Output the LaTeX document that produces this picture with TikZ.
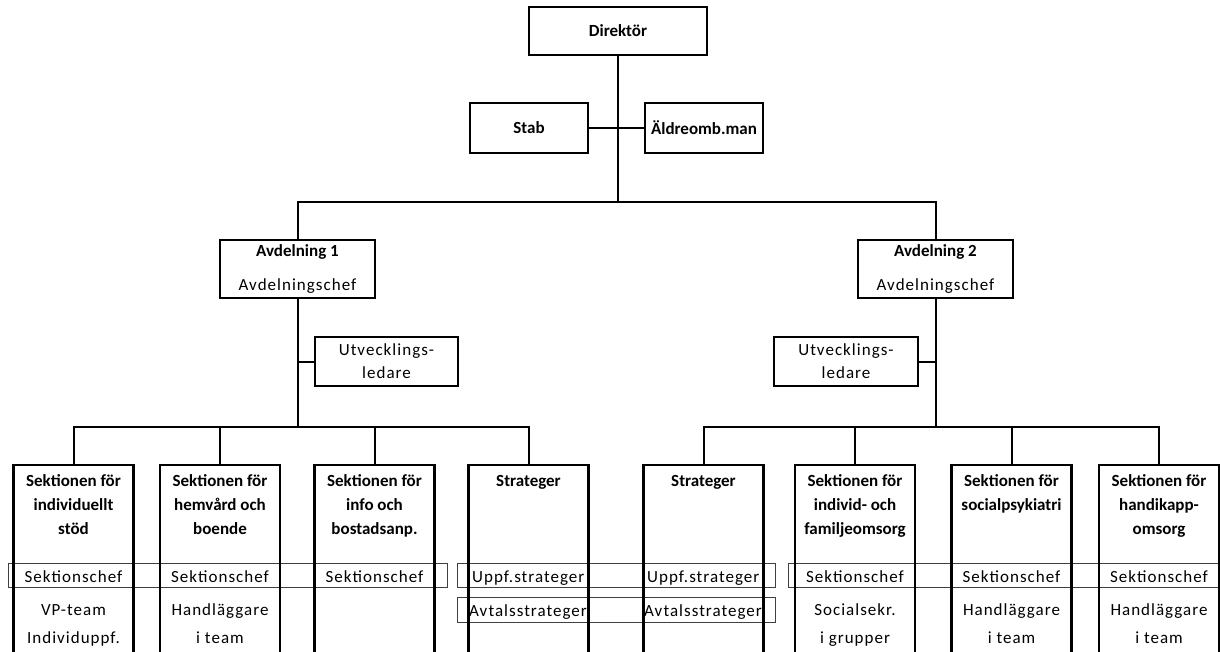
\documentclass[tikz,border=0pt]{standalone}
\usepackage{fontspec}
\setmainfont{Carlito}
\usetikzlibrary{positioning}
\tikzstyle{unit} = [draw,line width=2.4pt,rectangle,inner sep=0,align=center]
\tikzstyle{section} = [draw,line width=2.4pt,rectangle,inner sep=0,minimum width=120pt,minimum height=200pt,anchor=north]
\tikzstyle{heading} = [anchor=base,align=center,inner sep=0,font=\bfseries\fontsize{17}{24}\selectfont]
\tikzstyle{staff} = [anchor=base,align=center,inner sep=0,font=\addfontfeature{LetterSpace=6}\fontsize{17}{28}\selectfont]
\tikzstyle{band} = [draw=black!75,line width=0.8pt]
\tikzstyle{link} = [-,line width=2pt]
\def \secy {464}
% baseline of the last text line
\def \headi {486}
\def \headii {510}
\def \headiii {534}
\def \chefy {582}
\def \lowy {643}

\begin{document}
\begin{tikzpicture}[x=1pt,y=-1pt]
  \useasboundingbox (0,0) rectangle (1220,652);
  % ledning
  \node[unit,minimum width=178pt,minimum height=48pt,font=\bfseries\fontsize{17}{20}\selectfont] (dir) at (618,31) {Direktör};
  \node[unit,minimum width=118pt,minimum height=50pt,font=\bfseries\fontsize{17}{20}\selectfont] (stab) at (529,128) {Stab};
  \node[unit,minimum width=118pt,minimum height=50pt,font=\bfseries\fontsize{17}{20}\selectfont] (aldre) at (704,128) {Äldreomb.man};
  \coordinate (hub) at (618,202);
  \draw[link] (dir.south) -- (hub);
  \draw[link] (stab.east) -- (aldre.west);
  % avdelningar
  \node[unit,minimum width=155pt,minimum height=58pt,font=\fontsize{17}{34}\selectfont] (avd1) at (297.5,269)
    {{\bfseries Avdelning 1}\\{\addfontfeature{LetterSpace=6}Avdelningschef}};
  \node[unit,minimum width=155pt,minimum height=58pt,font=\fontsize{17}{34}\selectfont] (avd2) at (935.5,269)
    {{\bfseries Avdelning 2}\\{\addfontfeature{LetterSpace=6}Avdelningschef}};
  \draw[link] (avd1.north) |- (hub) -| (avd2.north);
  \node[unit,minimum width=143pt,minimum height=49pt,font=\addfontfeature{LetterSpace=6}\fontsize{17}{23}\selectfont] (utv1) at (386.5,361.5) {Utvecklings-\\ledare};
  \node[unit,minimum width=144pt,minimum height=49pt,font=\addfontfeature{LetterSpace=6}\fontsize{17}{23}\selectfont] (utv2) at (846,361.5) {Utvecklings-\\ledare};
  \coordinate (bus1) at (297.5,427);
  \coordinate (bus2) at (935.5,427);
  \draw[link] (avd1.south) -- (bus1);
  \draw[link] (avd2.south) -- (bus2);
  \draw[link] (utv1.west) -- (avd1.south |- utv1.west);
  \draw[link] (utv2.east) -- (avd2.south |- utv2.east);
  % band
  \draw[band] (8,563) rectangle (447,587);
  \draw[band] (457,563) rectangle (775,587);
  \draw[band] (457,597) rectangle (775,622);
  \draw[band] (788,563) rectangle (1224,587);
  % sektioner
  \foreach \n/\x in {s1/73.5,s2/220,s3/374.5,s4/528.5,s5/703.5,s6/855,s7/1011.5,s8/1159}
    \node[section] (\n) at (\x,\secy) {};
  \draw[link] (s1.north) |- (bus1) -| (s4.north);
  \draw[link] (s5.north) |- (bus2) -| (s8.north);
  \foreach \n in {s2,s3,s6,s7}
    \draw[link] (\n.north) -- (\n.north |- bus1);

  \node[heading] (h1) at (73.5,\headiii) {Sektionen för\\individuellt\\stöd};
  \node[heading] (h2) at (220,\headiii) {Sektionen för\\hemvård och\\boende};
  \node[heading] (h3) at (374.5,\headiii) {Sektionen för\\info och\\bostadsanp.};
  \node[heading] (h4) at (528.5,\headi) {Strateger};
  \node[heading] (h5) at (703.5,\headi) {Strateger};
  \node[heading] (h6) at (855,\headiii) {Sektionen för\\individ- och\\familjeomsorg};
  \node[heading] (h7) at (1011.5,\headii) {Sektionen för\\socialpsykiatri};
  \node[heading] (h8) at (1159,\headiii) {Sektionen för\\handikapp-\\omsorg};

  \foreach \n/\x in {c1/73.5,c2/220,c3/374.5,c6/855,c7/1011.5,c8/1159}
    \node[staff] (\n) at (\x,\chefy) {Sektionschef};

  \node[staff] (l1) at (73.5,\lowy) {VP-team\\Individuppf.};
  \node[staff] (l2) at (220,\lowy) {Handläggare\\i team};
  \node[staff] (l6) at (855,\lowy) {Socialsekr.\\i grupper};
  \node[staff] (l7) at (1011.5,\lowy) {Handläggare\\i team};
  \node[staff] (l8) at (1159,\lowy) {Handläggare\\i team};

  % strateger, texten klipps av vid boxkanten
  \begin{scope}
    \clip (469,540) rectangle (587,640);
    \node[staff,anchor=base west] (u4) at (472,\chefy) {Uppf.strateger};
    \node[staff,anchor=base west] (v4) at (469,616) {Avtalsstrateger};
  \end{scope}
  \begin{scope}
    \clip (644,540) rectangle (762,640);
    \node[staff,anchor=base west] (u5) at (647,\chefy) {Uppf.strateger};
    \node[staff,anchor=base west] (v5) at (644,616) {Avtalsstrateger};
  \end{scope}
\end{tikzpicture}
\end{document}
